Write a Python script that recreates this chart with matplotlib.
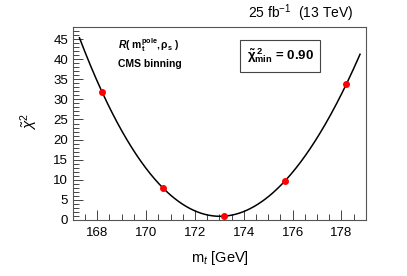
import numpy as np
import matplotlib
matplotlib.use("Agg")
import matplotlib.pyplot as plt
from matplotlib.ticker import MultipleLocator

plt.rcParams['font.family'] = ['Liberation Sans', 'DejaVu Sans']
plt.rcParams['mathtext.fontset'] = 'custom'
plt.rcParams['mathtext.rm'] = 'Liberation Sans'
plt.rcParams['mathtext.it'] = 'Liberation Sans:italic'
plt.rcParams['mathtext.bf'] = 'Liberation Sans:bold'
plt.rcParams['mathtext.bfit'] = 'Liberation Sans:bold:italic'

# Scan points (top mass vs chi2)
mt = [168.2, 170.7, 173.2, 175.7, 178.2]
chi2 = [31.8, 7.9, 0.95, 9.8, 33.8]
fit_range = [167.27, 178.76]
chi2_min_label = "0.90"

fig = plt.figure(figsize=(4.07, 2.76), dpi=100)
ax = fig.add_axes([0.179, 0.203, 0.720, 0.699])

# 4th order polynomial fit through the scan points
coef = np.polyfit(mt, chi2, 4)
xs = np.linspace(fit_range[0], fit_range[1], 300)
ax.plot(xs, np.polyval(coef, xs), color='black', lw=1.1, zorder=2)
ax.plot(mt, chi2, 'o', color='red', ms=4, mec='red', zorder=3)

ax.set_xlim(167, 179)
ax.set_ylim(0, 48)
ax.xaxis.set_major_locator(MultipleLocator(2))
ax.xaxis.set_minor_locator(MultipleLocator(0.5))
ax.yaxis.set_major_locator(MultipleLocator(5))
ax.yaxis.set_minor_locator(MultipleLocator(1))
ax.tick_params(which='both', direction='in', top=False, right=False, labelsize=9.5, width=0.7, color='#444')
ax.tick_params(which='major', length=7)
ax.tick_params(which='minor', length=4)
ax.tick_params(axis='x', pad=5)
for s in ax.spines.values():
    s.set_linewidth(0.8)
    s.set_color('#555')

ax.text(0.259, 0.907, r"$\mathbfit{R}\mathbf{(\ m_t^{pole},\rho_s\ )}$", transform=ax.transAxes,
        ha='center', va='center', fontsize=7.5)
ax.text(0.263, 0.808, "CMS binning", transform=ax.transAxes, ha='center', va='center',
        fontsize=7.5, fontweight='bold')
ax.text(0.708, 0.852, r"$\mathbf{\tilde{\chi}^{\,2}_{min}}$" + " = " + chi2_min_label, transform=ax.transAxes,
        ha='center', va='center', fontsize=9.5, fontweight='bold',
        bbox=dict(boxstyle='square,pad=0.5', fc='white', ec='#444', lw=0.8))

fig.text(0.867, 0.953, r"25 fb$^{-1}$  (13 TeV)", ha='right', va='center', fontsize=10)
fig.text(0.540, 0.065, r"m$_{t}$ [GeV]", ha='center', va='center', fontsize=10.5)
fig.text(0.071, 0.558, r"$\tilde{\chi}^{2}$", ha='center', va='center', fontsize=11, rotation=90)

fig.savefig("out.png", dpi=100)
